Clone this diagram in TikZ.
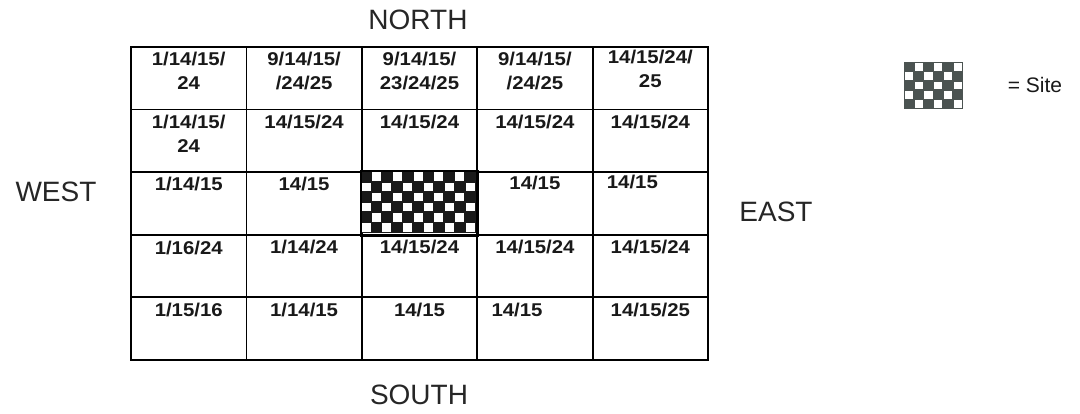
\documentclass[tikz,border=0pt]{standalone}
\usepackage{fontspec}
\setmainfont{Liberation Sans}
\newfontfamily\cellfont{Liberation Sans}[FakeStretch=1.1]
\usetikzlibrary{positioning}
\definecolor{legendgray}{HTML}{4B5351}

\begin{document}
\begin{tikzpicture}[
            x=1pt, y=-1pt,
            cell/.style={draw=black, line width=1.8pt, minimum width=115.4pt, minimum height=62.6pt, inner sep=0pt},
            celltext/.style={anchor=north, inner sep=0pt, align=center, text=black!90, font=\cellfont\bfseries\fontsize{18.5}{24}\selectfont},
            compass/.style={inner sep=0pt, text=black!85, font=\fontsize{28}{30}\selectfont},
            sitefill/.style={fill=black!90},
            legendfill/.style={fill=legendgray}
        ]
            \useasboundingbox (0,0) rectangle (1080,414);

            % grid of cells
            \foreach \r in {1,...,5}{
                \foreach \c in {1,...,5}{
                    \node[cell] (c\r\c) at ({131+(\c-0.5)*115.4}, {47+(\r-0.5)*62.6}) {};
                }
            }

            % site (checkered cell)
            \coordinate (site) at ([yshift=-0.5pt]c33.north west);
            \fill[sitefill] (site) rectangle ++(115.4, 61);
            \foreach \i in {0,...,10}{
                \foreach \j in {0,...,5}{
                    \pgfmathtruncatemacro\k{mod(\i+\j,2)}
                    \ifnum\k=1
                        \fill[white] ([xshift={\i*10.4pt+0.7pt}, yshift={-\j*10.1pt-0.7pt}]site) rectangle ++(9, 8.7);
                    \fi
                }
            }
            \draw[line width=1.8pt] (c33.north west) rectangle (c33.south east);

            % row 1
            \node[celltext] (t11) at ([yshift=-6pt]c11.north) {1/14/15/\\24};
            \node[celltext] (t12) at ([yshift=-6pt]c12.north) {9/14/15/\\/24/25};
            \node[celltext] (t13) at ([yshift=-6pt]c13.north) {9/14/15/\\23/24/25};
            \node[celltext] (t14) at ([yshift=-6pt]c14.north) {9/14/15/\\/24/25};
            \node[celltext] (t15) at ([yshift=-4pt]c15.north) {14/15/24/\\25};

            % row 2
            \node[celltext] (t21) at ([yshift=-6pt]c21.north) {1/14/15/\\24};
            \node[celltext] (t22) at ([yshift=-6pt]c22.north) {14/15/24};
            \node[celltext] (t23) at ([yshift=-6pt]c23.north) {14/15/24};
            \node[celltext] (t24) at ([yshift=-6pt]c24.north) {14/15/24};
            \node[celltext] (t25) at ([yshift=-6pt]c25.north) {14/15/24};

            % row 3
            \node[celltext] (t31) at ([yshift=-6pt]c31.north) {1/14/15};
            \node[celltext] (t32) at ([yshift=-6pt]c32.north) {14/15};
            \node[celltext] (t34) at ([yshift=-5pt]c34.north) {14/15};
            \node[celltext, anchor=north west] (t35) at ([xshift=15pt, yshift=-4pt]c35.north west) {14/15};

            % row 4
            \node[celltext] (t41) at ([yshift=-7pt]c41.north) {1/16/24};
            \node[celltext] (t42) at ([yshift=-6pt]c42.north) {1/14/24};
            \node[celltext] (t43) at ([yshift=-6pt]c43.north) {14/15/24};
            \node[celltext] (t44) at ([yshift=-6pt]c44.north) {14/15/24};
            \node[celltext] (t45) at ([yshift=-6pt]c45.north) {14/15/24};

            % row 5
            \node[celltext] (t51) at ([yshift=-6pt]c51.north) {1/15/16};
            \node[celltext] (t52) at ([yshift=-6pt]c52.north) {1/14/15};
            \node[celltext] (t53) at ([yshift=-6pt]c53.north) {14/15};
            \node[celltext, anchor=north west] (t54) at ([xshift=15pt, yshift=-6pt]c54.north west) {14/15};
            \node[celltext] (t55) at ([yshift=-6pt]c55.north) {14/15/25};

            % compass labels
            \node[compass] (north) at (418, 20) {NORTH};
            \node[compass] (south) at (419, 395) {SOUTH};
            \node[compass] (west) at (56, 192) {WEST};
            \node[compass] (east) at (776, 212) {EAST};

            % legend
            \coordinate (legend) at (904, 62);
            \fill[legendfill] (legend) rectangle ++(59, 47);
            \foreach \i in {0,...,5}{
                \foreach \j in {0,...,4}{
                    \pgfmathtruncatemacro\k{mod(\i+\j,2)}
                    \ifnum\k=1
                        \fill[white] ([xshift={\i*9.8pt+0.8pt}, yshift={-\j*9.4pt-0.8pt}]legend) rectangle ++(8.2, 7.8);
                    \fi
                }
            }
            \node[inner sep=0pt, font=\fontsize{21}{23}\selectfont, text=black!90] (sitekey) at (1035, 85) {= Site};

        \end{tikzpicture}
\end{document}
